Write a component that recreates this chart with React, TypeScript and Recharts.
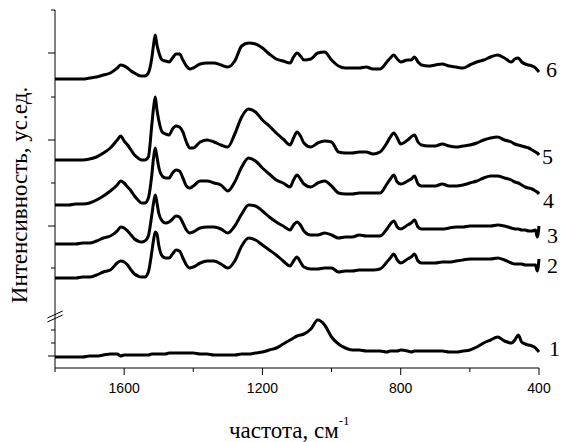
import { LabelList, Line, LineChart, ReferenceLine, XAxis, YAxis } from 'recharts';

// wavenumber grid, cm^-1 (denser around the sharp bands)
const wavenumbers = [
  1800, 1780, 1760, 1740, 1720, 1700, 1680, 1660, 1640, 1620, 1610, 1600, 1590, 1580, 1570,
  1560, 1550, 1540, 1530, 1520, 1515, 1510, 1505, 1500, 1490, 1480, 1470, 1460, 1450, 1440,
  1430, 1420, 1410, 1400, 1380, 1360, 1340, 1320, 1300, 1280, 1260, 1240, 1220, 1200, 1180,
  1160, 1140, 1120, 1110, 1100, 1090, 1080, 1060, 1040, 1020, 1000, 980, 960, 940, 920, 900,
  880, 860, 840, 830, 820, 810, 800, 780, 770, 760, 750, 740, 720, 700, 680, 660, 640, 620,
  600, 580, 560, 540, 520, 500, 480, 470, 460, 450, 440, 430, 420, 410, 405, 400,
];

// intensities with the vertical stacking offsets already included (arb. units)
const spectrum1 = [
  11, 11, 11, 11, 11, 12, 12, 13, 14, 14, 12, 13, 13, 13, 13,
  13, 13, 13, 13, 14, 14, 14, 14, 14, 14, 14, 15, 15, 15, 15,
  15, 15, 15, 15, 14, 14, 13, 13, 13, 13, 14, 14, 15, 16, 18,
  20, 24, 28, 30, 32, 33, 34, 39, 48, 43, 31, 24, 20, 18, 18, 17,
  17, 17, 16, 17, 17, 17, 18, 17, 16, 17, 17, 17, 17, 17, 17, 16, 16, 17,
  18, 21, 25, 28, 31, 27, 25, 28, 33, 26, 24, 23, 22, 20, 18, 16,
];
const spectrum2 = [
  90, 90, 90, 90, 91, 91, 93, 96, 98, 105, 107, 106, 103, 98, 94,
  92, 91, 91, 96, 116, 128, 136, 134, 123, 112, 110, 110, 114, 118, 117,
  110, 103, 100, 101, 105, 107, 107, 104, 100, 107, 122, 130, 128, 123, 118,
  113, 107, 102, 107, 111, 106, 101, 99, 99, 100, 100, 96, 97, 97, 98, 98,
  98, 99, 106, 110, 114, 108, 105, 109, 111, 114, 107, 105, 105, 105, 106, 106, 107, 108,
  109, 109, 109, 109, 110, 108, 105, 104, 104, 104, 103, 103, 103, 103, 97, 109,
];
const spectrum3 = [
  124, 124, 124, 124, 125, 125, 127, 130, 132, 137, 141, 140, 137, 133, 129,
  127, 126, 127, 132, 153, 165, 173, 165, 155, 147, 145, 146, 149, 152, 151,
  145, 138, 135, 136, 140, 141, 141, 139, 135, 142, 154, 163, 162, 157, 151,
  146, 142, 138, 143, 146, 143, 137, 133, 133, 135, 133, 130, 131, 131, 133, 132,
  132, 132, 139, 144, 147, 141, 139, 143, 145, 148, 141, 139, 139, 139, 139, 140, 141, 141,
  142, 142, 142, 142, 143, 142, 140, 139, 139, 138, 138, 137, 137, 138, 131, 142,
];
const spectrum4 = [
  163, 163, 163, 164, 164, 165, 168, 172, 177, 183, 187, 185, 181, 177, 172,
  168, 165, 165, 170, 193, 210, 220, 211, 201, 192, 190, 190, 195, 198, 197,
  190, 182, 180, 182, 187, 187, 185, 183, 177, 186, 201, 210, 207, 200, 194,
  188, 185, 181, 188, 193, 189, 184, 181, 185, 187, 182, 175, 174, 174, 175, 175,
  175, 175, 184, 189, 193, 186, 184, 187, 189, 192, 184, 182, 182, 182, 184, 182, 182, 183,
  185, 187, 190, 192, 192, 190, 188, 186, 185, 183, 181, 180, 179, 177, 176, 174,
];
const spectrum5 = [
  208, 208, 208, 208, 208, 209, 211, 215, 220, 228, 232, 227, 223, 218, 213,
  210, 208, 208, 211, 243, 260, 271, 258, 248, 236, 234, 233, 239, 242, 241,
  236, 226, 220, 220, 226, 228, 226, 223, 221, 234, 251, 259, 256, 248, 242,
  235, 229, 223, 230, 236, 232, 225, 221, 225, 227, 226, 216, 215, 215, 216, 216,
  214, 216, 225, 231, 235, 230, 224, 228, 231, 233, 226, 223, 222, 222, 224, 222, 221, 222,
  223, 225, 228, 230, 231, 228, 226, 224, 223, 222, 221, 220, 218, 216, 215, 213,
];
const spectrum6 = [
  289, 289, 289, 289, 289, 290, 291, 293, 295, 300, 303, 302, 300, 297, 295,
  293, 292, 292, 295, 310, 323, 333, 323, 316, 308, 307, 306, 310, 314, 314,
  308, 302, 299, 300, 304, 305, 305, 303, 301, 307, 322, 325, 324, 320, 314,
  309, 307, 305, 311, 315, 312, 308, 309, 315, 316, 308, 302, 300, 300, 300, 301,
  299, 299, 306, 310, 313, 309, 306, 308, 308, 311, 306, 303, 302, 303, 304, 302, 301, 300,
  303, 306, 308, 311, 313, 310, 306, 309, 310, 306, 304, 303, 302, 300, 298, 296,
];

const seriesKeys = ['s1', 's2', 's3', 's4', 's5', 's6'];
const seriesNames = ['1', '2', '3', '4', '5', '6'];

const xTicks = [1800, 1600, 1400, 1200, 1000, 800, 600, 400];
const xLabelledTicks = [1600, 1200, 800, 400];
const yTicks = [12, 25, 38, 100, 142, 185, 228, 271, 315, 358];
const yMajorTicks = [12, 142, 228, 315];

const data = wavenumbers.map((wn, i) => ({
  wn,
  s1: spectrum1[i],
  s2: spectrum2[i],
  s3: spectrum3[i],
  s4: spectrum4[i],
  s5: spectrum5[i],
  s6: spectrum6[i],
}));

// offsets of the curve numbers from the last point of each curve
const labelOffsets = [
  { dx: 10, dy: 4 },
  { dx: 8, dy: 14 },
  { dx: 8, dy: 17 },
  { dx: 4, dy: 14 },
  { dx: 3, dy: 9 },
  { dx: 7, dy: 5 },
];

const serif = '"Liberation Serif", "Times New Roman", serif';
const sans = '"Liberation Sans", Arial, sans-serif';

const XTick = (props: any) => {
  const { x, y, payload } = props;
  const major = xLabelledTicks.includes(payload.value);
  return (
    <g>
      <line x1={x} x2={x} y1={y} y2={y + (major ? 7 : 4)} stroke='#000' strokeWidth={1} />
      {major && (
        <text x={x} y={y + 25} textAnchor='middle' fontFamily={sans} fontSize={14} fill='#000'>
          {payload.value}
        </text>
      )}
    </g>
  );
};

const YTick = (props: any) => {
  const { x, y, payload } = props;
  const major = yMajorTicks.includes(payload.value);
  return <line x1={x} x2={x - (major ? 7 : 4)} y1={y} y2={y} stroke='#000' strokeWidth={1} />;
};

const YTitle = (props: any) => {
  const vb = props.viewBox;
  const cx = vb.x + 27;
  const cy = vb.y + vb.height / 2 + 6;
  return (
    <text
      x={cx}
      y={cy}
      transform={`rotate(-90 ${cx} ${cy})`}
      textAnchor='middle'
      fontFamily={serif}
      fontSize={23}
      fill='#000'
    >
      Интенсивность, ус.ед.
    </text>
  );
};

const XTitle = (props: any) => {
  const vb = props.viewBox;
  return (
    <text x={vb.x + 174} y={vb.y + 70} fontFamily={serif} fontSize={23} fill='#000'>
      частота, см
      <tspan dy={-13} fontSize={13}>
        -1
      </tspan>
    </text>
  );
};

const makeEndLabel = (n: number) => (props: any) => {
  const { x, y, index } = props;
  if (index !== wavenumbers.length - 1) return null;
  return (
    <text
      x={x + labelOffsets[n].dx}
      y={y + labelOffsets[n].dy}
      fontFamily={serif}
      fontSize={22}
      fill='#000'
    >
      {seriesNames[n]}
    </text>
  );
};

export default function App() {
  return (
    <div style={{ position: 'absolute', left: 0, top: 0, width: 561, height: 442, background: '#fff' }}>
      <LineChart
        width={561}
        height={442}
        data={data}
        margin={{ top: 10, right: 22, bottom: 0, left: 0 }}
      >
        <XAxis
          dataKey='wn'
          type='number'
          domain={[400, 1800]}
          reversed
          ticks={xTicks}
          interval={0}
          height={74}
          tickSize={0}
          tickMargin={0}
          tickLine={false}
          axisLine={{ stroke: '#000', strokeWidth: 1 }}
          tick={<XTick />}
          label={<XTitle />}
        />
        <YAxis
          type='number'
          domain={[0, 358]}
          ticks={yTicks}
          interval={0}
          width={55}
          tickSize={0}
          tickMargin={0}
          tickLine={false}
          axisLine={{ stroke: '#000', strokeWidth: 1 }}
          tick={<YTick />}
          label={<YTitle />}
        />
        {seriesKeys.map((key, n) => (
          <Line
            key={key}
            dataKey={key}
            type='monotone'
            stroke='#000'
            strokeWidth={3}
            dot={false}
            activeDot={false}
            isAnimationActive={false}
          >
            <LabelList dataKey={key} content={makeEndLabel(n)} />
          </Line>
        ))}
        {/* axis break */}
        <ReferenceLine
          segment={[{ x: 1800, y: 49 }, { x: 1800, y: 54 }]}
          stroke='#fff'
          strokeWidth={3}
          ifOverflow='visible'
        />
        <ReferenceLine
          segment={[{ x: 1822, y: 46 }, { x: 1778, y: 53 }]}
          stroke='#000'
          strokeWidth={1}
          ifOverflow='visible'
        />
        <ReferenceLine
          segment={[{ x: 1822, y: 50 }, { x: 1778, y: 57 }]}
          stroke='#000'
          strokeWidth={1}
          ifOverflow='visible'
        />
      </LineChart>
    </div>
  );
}
